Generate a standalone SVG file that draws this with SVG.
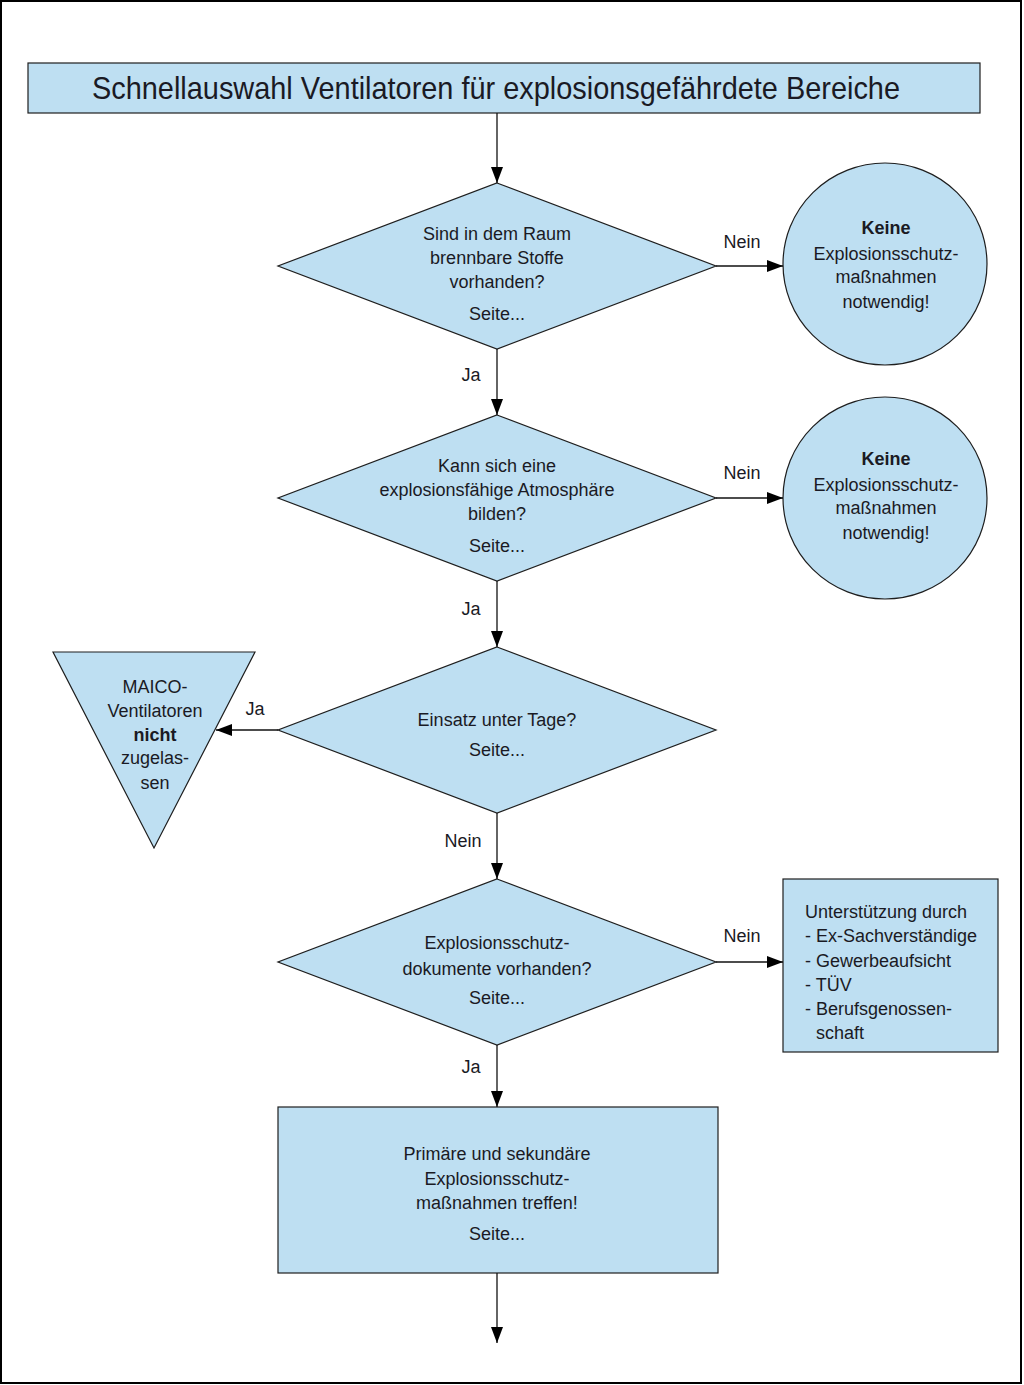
<svg xmlns="http://www.w3.org/2000/svg" width="1024" height="1385" viewBox="0 0 1024 1385">
<defs>
<style>
.shape{fill:#BEDFF2;stroke:#1e1e1e;stroke-width:1.2}
.t{font-family:"Liberation Sans",Arial,sans-serif;font-size:18px;fill:#1a1a24;text-anchor:middle}
.l{font-family:"Liberation Sans",Arial,sans-serif;font-size:18px;fill:#1a1a24}
.b{font-weight:bold}
.c{stroke:#111;stroke-width:1.3;fill:none;marker-end:url(#ah)}
</style>
<marker id="ah" viewBox="0 0 16 12" refX="16" refY="6" markerWidth="16" markerHeight="12" markerUnits="userSpaceOnUse" orient="auto">
<path d="M0,0 L16,6 L0,12 Z" fill="#000"/>
</marker>
</defs>
<rect x="0" y="0" width="1024" height="1385" fill="#fff"/>
<rect x="1" y="1" width="1020" height="1382" fill="none" stroke="#000" stroke-width="2"/>

<g id="title">
<rect class="shape" x="28" y="63" width="952" height="50"/>
<text class="t" x="496" y="99" style="font-size:32px" textLength="808" lengthAdjust="spacingAndGlyphs">Schnellauswahl Ventilatoren für explosionsgefährdete Bereiche</text>
</g>

<g id="q1">
<polygon class="shape" points="497,183 716,266 497,349 278,266"/>
<text class="t" x="497" y="240">Sind in dem Raum</text>
<text class="t" x="497" y="264">brennbare Stoffe</text>
<text class="t" x="497" y="288">vorhanden?</text>
<text class="t" x="497" y="320">Seite...</text>
</g>

<g id="r1">
<ellipse class="shape" cx="885" cy="264" rx="102" ry="101"/>
<text class="t b" x="886" y="234">Keine</text>
<text class="t" x="886" y="260">Explosionsschutz-</text>
<text class="t" x="886" y="283">maßnahmen</text>
<text class="t" x="886" y="308">notwendig!</text>
</g>

<g id="q2">
<polygon class="shape" points="497,415 716,498 497,581 278,498"/>
<text class="t" x="497" y="472">Kann sich eine</text>
<text class="t" x="497" y="496">explosionsfähige Atmosphäre</text>
<text class="t" x="497" y="520">bilden?</text>
<text class="t" x="497" y="552">Seite...</text>
</g>

<g id="r2">
<ellipse class="shape" cx="885" cy="498" rx="102" ry="101"/>
<text class="t b" x="886" y="465">Keine</text>
<text class="t" x="886" y="491">Explosionsschutz-</text>
<text class="t" x="886" y="514">maßnahmen</text>
<text class="t" x="886" y="539">notwendig!</text>
</g>

<g id="q3">
<polygon class="shape" points="497,647 716,730 497,813 278,730"/>
<text class="t" x="497" y="726">Einsatz unter Tage?</text>
<text class="t" x="497" y="756">Seite...</text>
</g>

<g id="r3">
<polygon class="shape" points="53,652 255,652 154,848"/>
<text class="t" x="155" y="693">MAICO-</text>
<text class="t" x="155" y="717">Ventilatoren</text>
<text class="t b" x="155" y="741">nicht</text>
<text class="t" x="155" y="764">zugelas-</text>
<text class="t" x="155" y="789">sen</text>
</g>

<g id="q4">
<polygon class="shape" points="497,879 716,962 497,1045 278,962"/>
<text class="t" x="497" y="949">Explosionsschutz-</text>
<text class="t" x="497" y="975">dokumente vorhanden?</text>
<text class="t" x="497" y="1004">Seite...</text>
</g>

<g id="r4">
<rect class="shape" x="783" y="879" width="215" height="173"/>
<text class="l" x="805" y="918">Unterstützung durch</text>
<text class="l" x="805" y="942">- Ex-Sachverständige</text>
<text class="l" x="805" y="967">- Gewerbeaufsicht</text>
<text class="l" x="805" y="991">- TÜV</text>
<text class="l" x="805" y="1015">- Berufsgenossen-</text>
<text class="l" x="816" y="1039">schaft</text>
</g>

<g id="a5">
<rect class="shape" x="278" y="1107" width="440" height="166"/>
<text class="t" x="497" y="1160">Primäre und sekundäre</text>
<text class="t" x="497" y="1185">Explosionsschutz-</text>
<text class="t" x="497" y="1209">maßnahmen treffen!</text>
<text class="t" x="497" y="1240">Seite...</text>
</g>

<g id="connectors">
<line class="c" x1="497" y1="113" x2="497" y2="183"/>
<line class="c" x1="716" y1="266" x2="783" y2="266"/>
<line class="c" x1="497" y1="349" x2="497" y2="415"/>
<line class="c" x1="716" y1="498" x2="783" y2="498"/>
<line class="c" x1="497" y1="581" x2="497" y2="647"/>
<line class="c" x1="278" y1="730" x2="216" y2="730"/>
<line class="c" x1="497" y1="813" x2="497" y2="879"/>
<line class="c" x1="716" y1="962" x2="783" y2="962"/>
<line class="c" x1="497" y1="1045" x2="497" y2="1107"/>
<line class="c" x1="497" y1="1273" x2="497" y2="1343"/>
<text class="t" x="742" y="248">Nein</text>
<text class="t" x="471" y="381">Ja</text>
<text class="t" x="742" y="479">Nein</text>
<text class="t" x="471" y="615">Ja</text>
<text class="t" x="255" y="715">Ja</text>
<text class="t" x="463" y="847">Nein</text>
<text class="t" x="742" y="942">Nein</text>
<text class="t" x="471" y="1073">Ja</text>
</g>
</svg>
